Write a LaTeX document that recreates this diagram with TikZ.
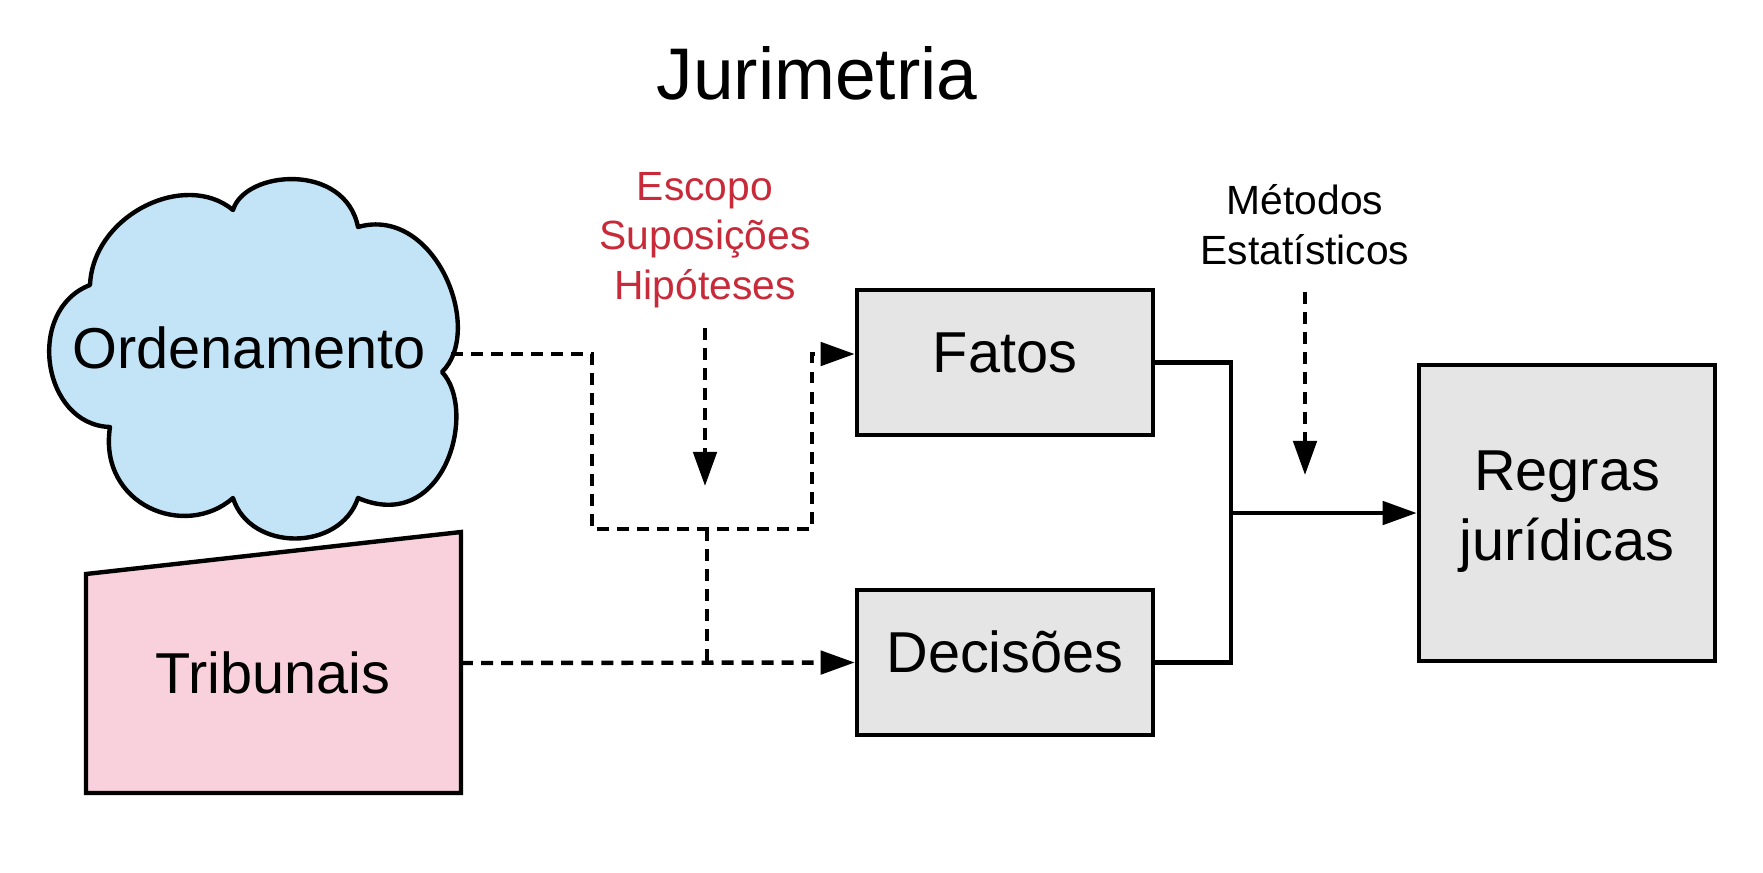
\documentclass[tikz,border=0pt]{standalone}
\usepackage{fontspec}
\setmainfont{Liberation Sans}
\usetikzlibrary{arrows.meta,calc}
\definecolor{cloudblue}{RGB}{194,228,246}
\definecolor{tribpink}{RGB}{249,209,221}
\definecolor{boxgray}{RGB}{229,229,229}
\definecolor{hipred}{RGB}{200,42,58}
\tikzset{
  ln/.style={line width=1.25pt},
  dsh/.style={ln, dash pattern=on 3.4pt off 2.3pt},
  tip/.style={-{Triangle[length=9.7pt,width=6.6pt]}},
  box/.style={ln, draw=black, fill=boxgray, minimum width=2.96cm, minimum height=1.45cm, inner sep=0pt},
  big/.style={font=\fontsize{16.4}{19.7}\selectfont, inner sep=0pt},
  small/.style={font=\fontsize{11.6}{13.94}\selectfont, inner sep=0pt, align=center},
}
\begin{document}
\begin{tikzpicture}[x=0.01cm,y=-0.01cm]
\useasboundingbox (0,0) rectangle (1763,872);
% title
\node[font=\fontsize{20.8}{25}\selectfont, inner sep=0pt, anchor=base] (title) at (817,99) {Jurimetria};
% cloud
\draw[ln, fill=cloudblue, line join=round] (90,285) .. controls (93,215) and (185,170) .. (233,210)
 .. controls (245,170) and (345,162) .. (358,227)
 .. controls (435,205) and (485,330) .. (442,372)
 .. controls (478,410) and (445,535) .. (358,498)
 .. controls (340,552) and (250,552) .. (233,498)
 .. controls (185,540) and (98,505) .. (110,427)
 .. controls (42,425) and (25,310) .. (90,285) -- cycle;
\node[big, anchor=base] (ord) at (249,368) {Ordenamento};
\coordinate (ordE) at (451,354);
% tribunais
\draw[ln, fill=tribpink] (86,574) -- (461,532) -- (461,793) -- (86,793) -- cycle;
\node[big, anchor=base] (trib) at (273,693) {Tribunais};
\coordinate (tribE) at (461,663);
% boxes
\node[box] (fatos) at (1005,362.5) {};
\node[big, anchor=base] (fatosT) at (1005,372) {Fatos};
\node[box] (decisoes) at (1005,662.5) {};
\node[big, anchor=base] (decT) at (1005,672) {Decisões};
\node[box, minimum height=2.96cm] (regras) at (1567,513) {};
\node[big, align=center, anchor=base] (regT) at (1567,560) {Regras\\jurídicas};
% labels
\node[small, text=hipred, anchor=base] (hip) at (705,299) {Escopo\\Suposições\\Hipóteses};
\node[small, anchor=base] (met) at (1305,264) {Métodos\\Estatísticos};
% dashed connectors
\coordinate (c1) at (592,354);
\coordinate (j1) at (592,529);
\coordinate (jm) at (707,529);
\coordinate (j3) at (812,529);
\coordinate (c4) at (812,354);
\draw[dsh, tip] (ordE) -- (c1) -- (j1) -- (j3) -- (c4) -- (fatos.west |- ordE);
\draw[dsh] (jm) -- (jm |- decisoes.west);
\draw[dsh, tip] (tribE) -- (decisoes.west);
\coordinate (hipA) at (705,328);
\coordinate (hipB) at (705,486);
\draw[dsh, tip] (hipA) -- (hipB);
\coordinate (metA) at (1305,292);
\coordinate (metB) at (1305,475);
\draw[dsh, tip] (metA) -- (metB);
% solid connectors
\coordinate (mg) at (1231,513);
\draw[ln] (fatos.east) -| (mg);
\draw[ln] (decisoes.east) -| (mg);
\draw[ln, tip] (mg) -- (regras.west);
\end{tikzpicture}
\end{document}
